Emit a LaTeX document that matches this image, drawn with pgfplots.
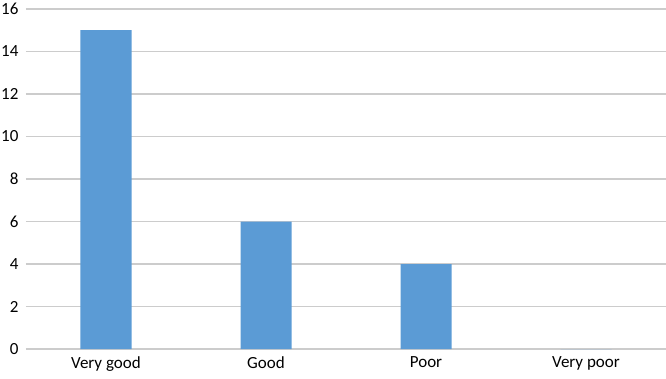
\documentclass[border=0pt]{standalone}
\usepackage{pgfplots}
\pgfplotsset{compat=1.18}
\usepackage{fontspec}
\setmainfont{Carlito}
\definecolor{barblue}{HTML}{5B9BD5}
\definecolor{gridgray}{HTML}{CCCCCC}
\begin{document}
\begin{tikzpicture}
\path[use as bounding box] (0,0) rectangle (666pt,378pt);
\begin{axis}[
  at={(26pt,29pt)}, anchor=south west,
  scale only axis, width=640pt, height=340pt,
  xmin=-0.5, xmax=3.5, ymin=0, ymax=16,
  ytick={0,2,...,16},
  xtick={0,1,2,3},
  xticklabels={Very good,Good,Poor,Very poor},
  axis line style={draw=none},
  major tick length=0pt,
  ymajorgrids,
  grid style={gridgray, line width=1.8pt},
  every tick label/.append style={font=\fontsize{17}{20}\selectfont, text=black},
  /pgf/number format/assume math mode=true,
  yticklabel style={xshift=-4pt},
  xticklabel style={yshift=-4pt},
  ybar, bar width=51pt,
  clip=false,
]
\addplot[fill=barblue, draw=none] coordinates {(0,15) (1,6) (2,4) (3,0)};
\end{axis}
\end{tikzpicture}
\end{document}
